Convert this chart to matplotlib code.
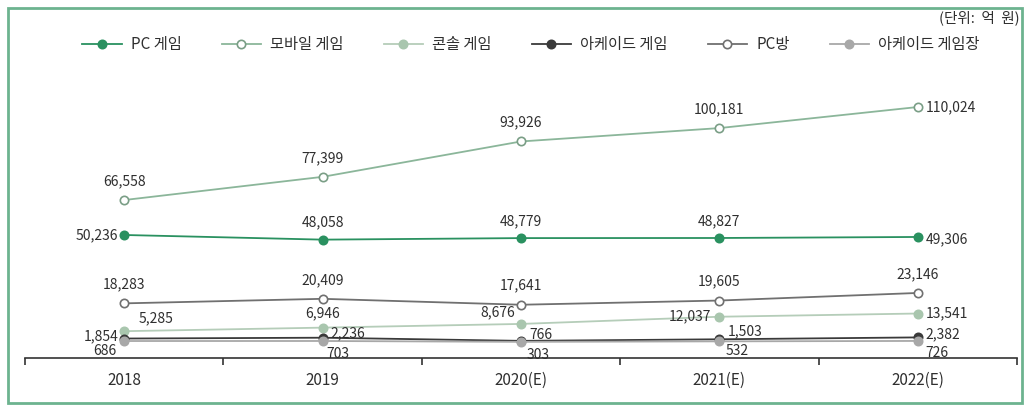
import matplotlib
matplotlib.use("Agg")
import matplotlib.pyplot as plt
from matplotlib.patches import Rectangle

plt.rcParams['font.family'] = ['Noto Sans CJK KR', 'DejaVu Sans']

years = ["2018", "2019", "2020(E)", "2021(E)", "2022(E)"]
pc_game = [50236, 48058, 48779, 48827, 49306]
mobile_game = [66558, 77399, 93926, 100181, 110024]
console_game = [5285, 6946, 8676, 12037, 13541]
arcade_game = [1854, 2236, 766, 1503, 2382]
pc_bang = [18283, 20409, 17641, 19605, 23146]
arcade_hall = [686, 703, 303, 532, 726]

W, H = 1029, 407
fig = plt.figure(figsize=(W / 100, H / 100), dpi=100)
fig.patch.set_facecolor("white")

def px(x0, y0, x1, y1):
    return [x0 / W, 1 - y1 / H, (x1 - x0) / W, (y1 - y0) / H]

ax = fig.add_axes(px(25, 100, 1017, 358))
x = list(range(len(years)))

txt = "#2f2f2f"
series = [
    ("PC 게임", pc_game, dict(color="#2a9160", marker="o", mfc="#2a9160", mec="#2a9160")),
    ("모바일 게임", mobile_game, dict(color="#8bb69a", marker="o", mfc="white", mec="#7a9e86")),
    ("콘솔 게임", console_game, dict(color="#b5cdb9", marker="o", mfc="#a9c6ae", mec="#a9c6ae")),
    ("아케이드 게임", arcade_game, dict(color="#3a3a3a", marker="o", mfc="#3a3a3a", mec="#3a3a3a")),
    ("PC방", pc_bang, dict(color="#707070", marker="o", mfc="white", mec="#707070")),
    ("아케이드 게임장", arcade_hall, dict(color="#a8a8a8", marker="o", mfc="#a8a8a8", mec="#a8a8a8")),
]

handles = []
for name, vals, st in series:
    h, = ax.plot(x, vals, lw=1.3, ms=6, mew=1.2, label=name, zorder=3, **st)
    handles.append(h)

ax.set_xlim(-0.5, 4.5)
ax.set_ylim(-7243, 113300)
for s in ["top", "right", "left"]:
    ax.spines[s].set_visible(False)
ax.spines["bottom"].set_color("#333333")
ax.spines["bottom"].set_linewidth(1.2)
ax.set_yticks([])
ax.set_xticks([i - 0.5 for i in range(6)])
ax.set_xticklabels([])
ax.tick_params(axis="x", length=5, width=1.2, color="#333333", direction="out")
for i, y in enumerate(years):
    ax.text(i, -0.055, y, transform=ax.get_xaxis_transform(), ha="center", va="top",
            fontsize=11, color=txt)

fs = 10

def lab(i, v, dx, dy, ha="center", va="center"):
    ax.annotate(f"{v:,}", (i, v), xytext=(dx, dy), textcoords="offset pixels",
                ha=ha, va=va, fontsize=fs, color=txt, fontweight="medium", zorder=5)

# PC game
lab(0, pc_game[0], -6, 0, ha="right")
for i in (1, 2, 3):
    lab(i, pc_game[i], 0, 17)
lab(4, pc_game[4], 8, -2, ha="left")
# mobile
for i in range(4):
    lab(i, mobile_game[i], 0, 19)
lab(4, mobile_game[4], 8, 0, ha="left")
# PC bang
for i in range(5):
    lab(i, pc_bang[i], 0, 19)
# console
lab(0, console_game[0], 14, 13, ha="left")
lab(1, console_game[1], 0, 14)
lab(2, console_game[2], -6, 12, ha="right")
lab(3, console_game[3], -8, 0, ha="right")
lab(4, console_game[4], 8, 0, ha="left")
# arcade game
lab(0, arcade_game[0], -6, 2, ha="right")
lab(1, arcade_game[1], 8, 4, ha="left")
lab(2, arcade_game[2], 8, 6, ha="left")
lab(3, arcade_game[3], 8, 8, ha="left")
lab(4, arcade_game[4], 8, 3, ha="left")
# arcade hall
lab(0, arcade_hall[0], -8, -10, ha="right")
lab(1, arcade_hall[1], 4, -13, ha="left")
lab(2, arcade_hall[2], 6, -13, ha="left")
lab(3, arcade_hall[3], 6, -10, ha="left")
lab(4, arcade_hall[4], 8, -12, ha="left")

fig.legend(handles=handles, loc="center", bbox_to_anchor=(531 / W, 1 - 45 / H), ncol=6,
           frameon=False, fontsize=11, handlelength=2.6, handletextpad=0.6,
           columnspacing=2.6, labelcolor=txt)

fig.text(1020 / W, 1 - 18 / H, "(단위:  억  원)", ha="right", va="center", fontsize=10.5, color=txt)

fig.patches.append(Rectangle((8 / W, 1 - 403 / H), (1022 - 8) / W, (403 - 8) / H,
                             transform=fig.transFigure, fill=False,
                             edgecolor="#6db38f", lw=2, zorder=0))

fig.savefig("out.png", dpi=100)
